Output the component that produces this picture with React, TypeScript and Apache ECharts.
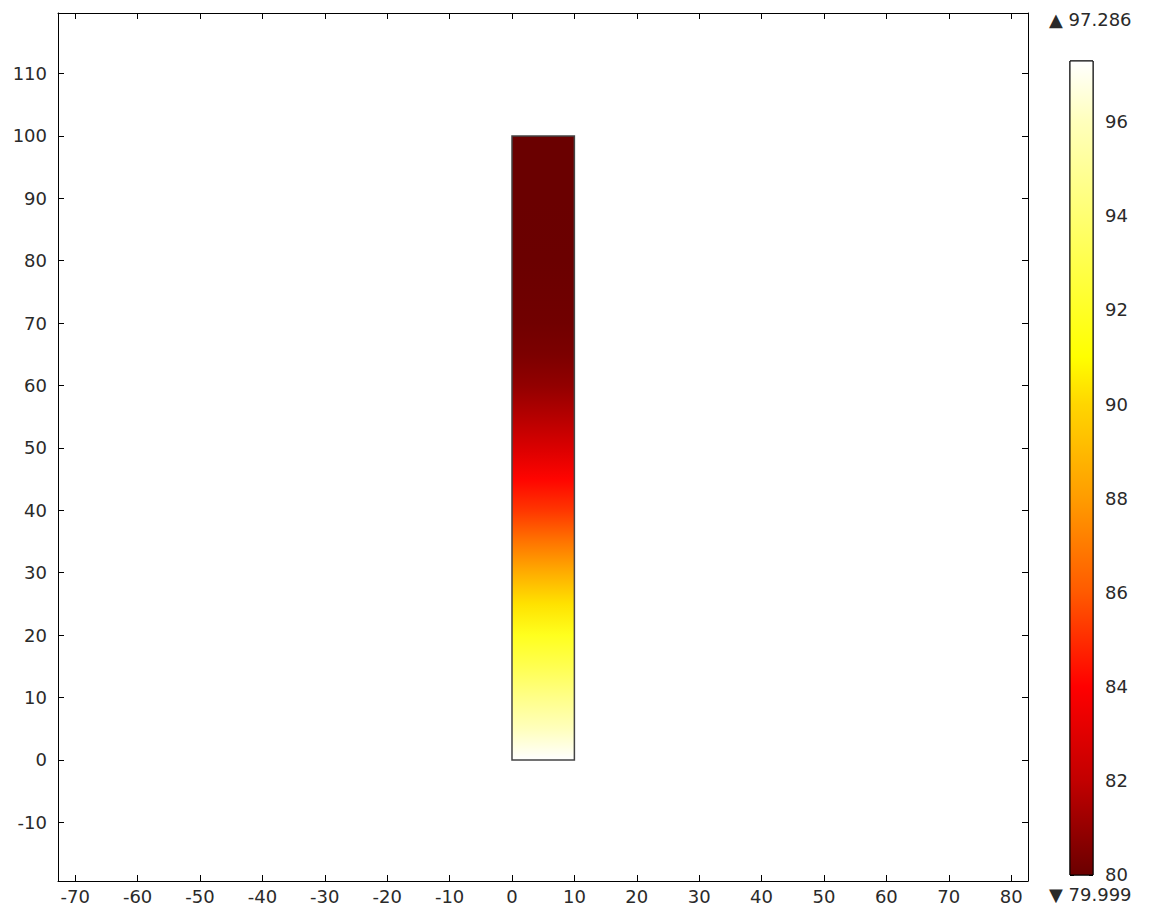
import React, { useEffect, useRef } from "react";
import * as echarts from "echarts";

// Plot window (model coordinates)
const xRange = [-72.76, 82.7];
const yRange = [-19.4, 119.7];

// Fin geometry: [xMin, yMin, xMax, yMax]
const finRect = [0, 0, 10, 100];

// Temperature profile along the fin height
const finY = [0, 5, 10, 15, 20, 25, 30, 35, 40, 45, 50, 55, 60, 65, 70, 80, 90, 100];
const finT = [97.286, 96.0, 94.6, 93.1, 91.8, 90.3, 88.6, 86.8, 85.2, 84.1, 82.8, 81.7, 80.9, 80.4, 80.15, 80.02, 80.0, 79.999];

// Colour range and thermal colour table
const tMin = 79.999;
const tMax = 97.286;
const cmapValues = [79.999, 82, 84, 86, 88, 90, 91, 94, 96, 97.286];
const cmapColors = ["#6a0000", "#c20000", "#ff0000", "#ff5a00", "#ff9c00", "#ffd600", "#ffff00", "#ffff72", "#ffffbc", "#ffffff"];

function hexToRgb(h: string) {
  const n = parseInt(h.slice(1), 16);
  return [(n >> 16) & 255, (n >> 8) & 255, n & 255];
}

function colorAt(t: number) {
  if (t <= cmapValues[0]) return cmapColors[0];
  const last = cmapValues.length - 1;
  if (t >= cmapValues[last]) return cmapColors[last];
  let i = 0;
  while (i < last && t > cmapValues[i + 1]) i++;
  const f = (t - cmapValues[i]) / (cmapValues[i + 1] - cmapValues[i]);
  const a = hexToRgb(cmapColors[i]);
  const b = hexToRgb(cmapColors[i + 1]);
  const c = a.map((v, k) => Math.round(v + (b[k] - v) * f));
  return `rgb(${c[0]},${c[1]},${c[2]})`;
}

const FONT = "DejaVu Sans";
const FS = 18;
const TXT = "#2a2a2a";

export default function App() {
  const ref = useRef<HTMLDivElement>(null);

  useEffect(() => {
    if (!ref.current) return;
    const chart = echarts.init(ref.current, null, { renderer: "svg" });

    const finStops = finY.map((y, i) => ({
      offset: (y - finRect[1]) / (finRect[3] - finRect[1]),
      color: colorAt(finT[i]),
    }));
    const barStops = cmapValues.map((v, i) => ({
      offset: (v - tMin) / (tMax - tMin),
      color: cmapColors[i],
    }));

    const tick = { show: true, inside: true, length: 6, lineStyle: { color: "#000", width: 1 } };
    const line = { show: true, onZero: false, lineStyle: { color: "#000", width: 1 } };
    const label = { fontFamily: FONT, fontSize: FS, color: TXT };

    const rectItem = (stops: any[], stroke: string, lw: number) => (params: any, api: any) => {
      const p0 = api.coord([api.value(0), api.value(1)]);
      const p1 = api.coord([api.value(2), api.value(3)]);
      return {
        type: "rect",
        shape: { x: p0[0], y: p1[1], width: p1[0] - p0[0], height: p0[1] - p1[1] },
        style: {
          fill: new echarts.graphic.LinearGradient(0, 1, 0, 0, stops),
          stroke,
          lineWidth: lw,
        },
      };
    };

    chart.setOption({
      animation: false,
      backgroundColor: "#fff",
      grid: [
        { left: 58, top: 13, width: 970, height: 868 },
        { left: 1070, top: 61, width: 23, height: 814, show: true, borderColor: "#000", borderWidth: 1 },
      ],
      xAxis: [
        {
          type: "value", gridIndex: 0, position: "bottom", min: xRange[0], max: xRange[1], splitNumber: 15,
          axisLine: line, axisTick: tick, splitLine: { show: false },
          axisLabel: { ...label, margin: 6, showMinLabel: false, showMaxLabel: false },
        },
        {
          type: "value", gridIndex: 0, position: "top", min: xRange[0], max: xRange[1], splitNumber: 15,
          axisLine: line, axisTick: tick, splitLine: { show: false }, axisLabel: { show: false },
        },
        {
          type: "value", gridIndex: 1, min: 0, max: 1, show: false,
        },
      ],
      yAxis: [
        {
          type: "value", gridIndex: 0, position: "left", min: yRange[0], max: yRange[1], splitNumber: 14,
          axisLine: line, axisTick: tick, splitLine: { show: false },
          axisLabel: { ...label, margin: 11, showMinLabel: false, showMaxLabel: false },
        },
        {
          type: "value", gridIndex: 0, position: "right", min: yRange[0], max: yRange[1], splitNumber: 14,
          axisLine: line, axisTick: tick, splitLine: { show: false }, axisLabel: { show: false },
        },
        {
          type: "value", gridIndex: 1, position: "left", min: tMin, max: tMax, splitNumber: 8,
          axisLine: { show: false }, axisTick: { ...tick, length: 4 }, splitLine: { show: false }, axisLabel: { show: false },
        },
        {
          type: "value", gridIndex: 1, position: "right", min: tMin, max: tMax, splitNumber: 8,
          axisLine: { show: false }, axisTick: { ...tick, length: 4 }, splitLine: { show: false },
          axisLabel: { ...label, margin: 12, showMinLabel: false, showMaxLabel: false },
        },
      ],
      series: [
        {
          type: "custom",
          xAxisIndex: 0,
          yAxisIndex: 0,
          clip: false,
          encode: { x: [0, 2], y: [1, 3] },
          data: [finRect],
          renderItem: rectItem(finStops, "#444", 1.5),
        },
        {
          type: "custom",
          xAxisIndex: 2,
          yAxisIndex: 2,
          clip: false,
          encode: { x: [0, 2], y: [1, 3] },
          data: [[0, tMin, 1, tMax]],
          renderItem: rectItem(barStops, "#000", 1),
        },
      ],
      graphic: [
        {
          type: "text", left: 1049, top: 10,
          style: { text: "\u25B2 " + tMax.toFixed(3), font: `${FS}px ${FONT}`, fill: TXT },
        },
        {
          type: "text", left: 1049, top: 885,
          style: { text: "\u25BC " + tMin.toFixed(3), font: `${FS}px ${FONT}`, fill: TXT },
        },
      ],
    });

    return () => chart.dispose();
  }, []);

  return (
    <div
      ref={ref}
      style={{ position: "fixed", left: 0, top: 0, width: 1150, height: 909, background: "#fff" }}
    />
  );
}
